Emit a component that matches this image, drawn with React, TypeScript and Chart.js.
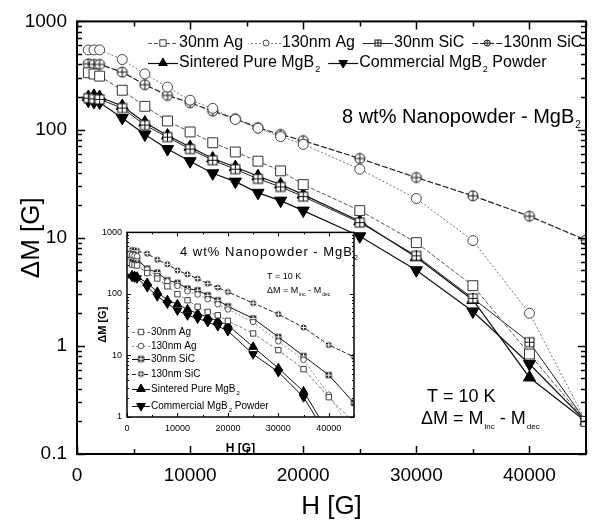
import React, { useEffect, useRef } from 'react';
import { Chart, registerables } from 'chart.js';
import { drawPoint } from 'chart.js/helpers';

Chart.register(...registerables);

const FONT = '"Liberation Sans", Arial, Helvetica, sans-serif';

// ---------- data (main panel: 8 wt% nanopowder) ----------
const H_FIELD = [1000, 1500, 2000, 4000, 6000, 8000, 10000, 12000, 14000, 16000, 18000, 20000, 25000, 30000, 35000, 40000, 45000];

const MAIN_30NM_AG = [335, 326, 312, 231, 164, 120, 95, 75.5, 62, 51, 41.5, 31, 17.8, 9.0, 3.6, 0.84, 0.2];
const MAIN_130NM_AG = [545, 545, 545, 444, 327, 247, 187, 157, 124, 103, 86, 73, 43, 23, 9.4, 2.0, 0.2];
const MAIN_30NM_SIC = [195, 192, 190, 158, 110, 85, 66, 52, 43, 35, 29.5, 24, 13.8, 6.8, 2.75, 1.08, 0.2];
const MAIN_130NM_SIC = [405, 400, 400, 340, 260, 207, 177, 148, 126, 104, 90, 79, 54, 36, 24.4, 15.8, 9.5];
const MAIN_SINTERED = [200, 205, 200, 165, 116, 88, 69, 54, 45, 37, 31, 25, 14.2, 6.6, 2.66, 0.51, 0.2];
const MAIN_COMMERCIAL = [185, 180, 178, 128, 90, 66, 51, 39.4, 33, 26, 22, 17.8, 10.3, 5.0, 2.08, 0.68, 0.2];

// ---------- data (inset: 4 wt% nanopowder) ----------
const IN_30NM_AG = [300, 295, 290, 219, 178, 133, 99, 79, 62, 51, 45, 36.5, 22.8, 12.2, 6.0, 2.1, 0.8];
const IN_130NM_AG = [430, 420, 410, 250, 195, 160, 135, 110, 98, 82, 68, 56, 35, 17, 8.5, 2.3, 0.5];
const IN_30NM_SIC = [380, 370, 360, 258, 222, 167, 151, 122, 115, 95, 79, 63, 40, 20, 9.8, 4.8, 1.7];
const IN_130NM_SIC = [520, 510, 500, 451, 360, 303, 242, 208, 177, 147, 127, 108, 71, 47, 28.5, 14.8, 9.5];
const IN_SINTERED = [200, 195, 190, 151, 108, 79, 68, 56, 48, 42, 36.5, 31, 13.8, 6.2, 2.6, 0.55, 0.2];
const IN_COMMERCIAL = [190, 185, 180, 130, 92, 70, 54, 45, 40, 35, 30, 25, 10.5, 5.4, 2.1, 0.45, 0.2];

const SERIES_LABELS = ['30nm Ag', '130nm Ag', '30nm SiC', '130nm SiC', 'Sintered Pure MgB_{2}', 'Commercial MgB_{2} Powder'];

// ---------- ticks ----------
const X_TICKS = [0, 10000, 20000, 30000, 40000];
const X_TICK_LABELS = ['0', '10000', '20000', '30000', '40000'];
const X_MINOR = [5000, 15000, 25000, 35000, 45000];
const Y_TICKS = [0.1, 1, 10, 100, 1000];
const Y_TICK_LABELS = ['0.1', '1', '10', '100', '1000'];
const INSET_Y_TICKS = [1, 10, 100, 1000];
const INSET_Y_TICK_LABELS = ['1', '10', '100', '1000'];

const MAIN_TITLE = '8 wt% Nanopowder - MgB_{2}';
const INSET_TITLE = '4 wt% Nanopowder - MgB_{2}';
const TEMP_TEXT = 'T = 10 K';
const DELTA_TEXT = 'ΔM = M_{inc} - M_{dec}';

function logMinor(decades: number[]) {
  const out: number[] = [];
  for (let i = 0; i < decades.length - 1; i++) {
    for (let k = 2; k <= 9; k++) out.push(decades[i] * k);
  }
  return out;
}

function makeMarker(kind: string, s: number, fill: string, stroke: string, lw: number, inner: string) {
  const c = document.createElement('canvas');
  const size = Math.ceil(s + lw * 2 + 2);
  c.width = size;
  c.height = size;
  const g = c.getContext('2d')!;
  const m = size / 2;
  const r = s / 2;
  g.lineWidth = lw;
  g.strokeStyle = stroke;
  g.fillStyle = fill;
  if (kind === 'circlePlus') {
    g.beginPath();
    g.arc(m, m, r, 0, Math.PI * 2);
    g.fill();
    g.stroke();
    g.strokeStyle = inner;
    g.beginPath();
    g.moveTo(m - r, m);
    g.lineTo(m + r, m);
    g.moveTo(m, m - r);
    g.lineTo(m, m + r);
    g.stroke();
  } else {
    g.fillRect(m - r, m - r, s, s);
    g.strokeRect(m - r, m - r, s, s);
    g.strokeStyle = inner;
    g.beginPath();
    g.moveTo(m - r, m);
    g.lineTo(m + r, m);
    g.moveTo(m, m - r);
    g.lineTo(m, m + r);
    g.stroke();
  }
  return c;
}

function drawRich(ctx: CanvasRenderingContext2D, str: string, x: number, y: number, size: number, weight = 'normal', subScale = 0.5, subDrop = 0.4) {
  const parts = str.split(/(_\{[^}]*\})/).filter(Boolean);
  let cx = x;
  ctx.textBaseline = 'middle';
  ctx.textAlign = 'left';
  for (const p of parts) {
    if (p.startsWith('_{')) {
      const t = p.slice(2, -1);
      ctx.font = `${weight} ${Math.round(size * subScale)}px ${FONT}`;
      ctx.fillText(t, cx + 1, y + size * subDrop);
      cx += ctx.measureText(t).width + 1;
    } else {
      ctx.font = `${weight} ${size}px ${FONT}`;
      ctx.fillText(p, cx, y);
      cx += ctx.measureText(p).width;
    }
  }
  return cx - x;
}

function framePlugin(o: any) {
  return {
    id: 'axisFrame',
    beforeDraw(chart: any) {
      if (!o.whiteArea) return;
      const { ctx, chartArea: a } = chart;
      ctx.save();
      ctx.fillStyle = '#fff';
      ctx.fillRect(a.left, a.top, a.right - a.left, a.bottom - a.top);
      ctx.restore();
    },
    afterDatasetsDraw(chart: any) {
      const { ctx, chartArea: a, scales } = chart;
      const x = scales.x;
      const y = scales.y;
      ctx.save();
      ctx.strokeStyle = '#000';
      ctx.lineWidth = o.tickWidth;
      ctx.beginPath();
      const xt = (vals: number[], len: number) => {
        for (const v of vals) {
          const px = Math.round(x.getPixelForValue(v)) + 0.5;
          ctx.moveTo(px, a.bottom);
          ctx.lineTo(px, a.bottom - len);
          if (o.topTicks) {
            ctx.moveTo(px, a.top);
            ctx.lineTo(px, a.top + len);
          }
        }
      };
      const yt = (vals: number[], len: number) => {
        for (const v of vals) {
          const py = Math.round(y.getPixelForValue(v)) + 0.5;
          ctx.moveTo(a.left, py);
          ctx.lineTo(a.left + len, py);
          if (o.rightTicks) {
            ctx.moveTo(a.right, py);
            ctx.lineTo(a.right - len, py);
          }
        }
      };
      xt(o.xMajor, o.major);
      xt(o.xMinor, o.minor);
      yt(o.yMajor, o.major);
      yt(o.yMinor, o.minor);
      ctx.stroke();
      ctx.lineWidth = o.frameWidth;
      ctx.strokeRect(a.left, a.top, a.right - a.left, a.bottom - a.top);
      ctx.restore();
    },
  };
}

type MarkerSpec = { style: any; r: number; bg: string; border: string; rot?: number };

function legendPlugin(o: any) {
  return {
    id: 'customLegend',
    afterDraw(chart: any) {
      const { ctx } = chart;
      ctx.save();
      ctx.fillStyle = '#000';
      for (const row of o.rows) {
        let x = row.x;
        for (const idx of row.items) {
          const ds = chart.data.datasets[idx];
          const mk: MarkerSpec = o.markers[idx];
          ctx.save();
          ctx.strokeStyle = ds.borderColor;
          ctx.lineWidth = ds.borderWidth;
          ctx.setLineDash(ds.borderDash || []);
          ctx.beginPath();
          ctx.moveTo(x, row.y + 0.5);
          ctx.lineTo(x + o.lineLen, row.y + 0.5);
          ctx.stroke();
          ctx.setLineDash([]);
          ctx.fillStyle = mk.bg;
          ctx.strokeStyle = mk.border;
          ctx.lineWidth = 1;
          drawPoint(ctx, { pointStyle: mk.style, radius: mk.r, rotation: mk.rot || 0, borderWidth: 1 } as any, x + o.lineLen / 2, row.y);
          ctx.restore();
          ctx.fillStyle = '#000';
          const w = drawRich(ctx, SERIES_LABELS[idx], x + o.lineLen + 1, row.y, o.size, 'normal', 0.55, 0.42);
          x += o.lineLen + 1 + w + o.gap;
        }
      }
      for (const t of o.texts) {
        ctx.fillStyle = '#000';
        if (t.spacing) (ctx as any).letterSpacing = t.spacing;
        drawRich(ctx, t.text, t.x, t.y, t.size, t.weight || 'normal', t.subScale || 0.5, t.subDrop || 0.4);
        (ctx as any).letterSpacing = '0px';
      }
      ctx.restore();
    },
  };
}

function buildDatasets(values: number[][], markers: MarkerSpec[], lines: any[]) {
  return values.map((vals, i) => ({
    label: SERIES_LABELS[i],
    data: vals.map((v, j) => ({ x: H_FIELD[j], y: v })),
    borderColor: lines[i].color,
    borderWidth: lines[i].width,
    borderDash: lines[i].dash,
    pointStyle: markers[i].style,
    pointRadius: markers[i].r,
    pointRotation: markers[i].rot || 0,
    pointBackgroundColor: markers[i].bg,
    pointBorderColor: markers[i].border,
    pointBorderWidth: 1,
    tension: 0,
    fill: false,
  }));
}

export default function App() {
  const mainRef = useRef<HTMLCanvasElement>(null);
  const insetRef = useRef<HTMLCanvasElement>(null);

  useEffect(() => {
    const mainMarkers: MarkerSpec[] = [
      { style: 'rect', r: 7, bg: '#fff', border: '#333' },
      { style: 'circle', r: 5, bg: '#fff', border: '#444' },
      { style: makeMarker('squareCross', 9, '#fff', '#111', 1, '#111'), r: 5, bg: '#fff', border: '#111' },
      { style: makeMarker('circlePlus', 10, '#fff', '#111', 1, '#111'), r: 5, bg: '#fff', border: '#111' },
      { style: 'triangle', r: 7, bg: '#000', border: '#000' },
      { style: 'triangle', r: 7, rot: 180, bg: '#000', border: '#000' },
    ];
    const mainLegendMarkers: MarkerSpec[] = [
      { style: 'rect', r: 4.5, bg: '#fff', border: '#333' },
      { style: 'circle', r: 3, bg: '#fff', border: '#444' },
      { style: makeMarker('squareCross', 6, '#fff', '#111', 1, '#111'), r: 3, bg: '#fff', border: '#111' },
      { style: makeMarker('circlePlus', 6, '#fff', '#111', 1, '#111'), r: 3, bg: '#fff', border: '#111' },
      { style: 'triangle', r: 5, bg: '#000', border: '#000' },
      { style: 'triangle', r: 5, rot: 180, bg: '#000', border: '#000' },
    ];
    const mainLines = [
      { color: '#555', width: 1, dash: [4, 2] },
      { color: '#777', width: 1, dash: [2, 2] },
      { color: '#222', width: 1, dash: [] },
      { color: '#222', width: 1.2, dash: [6, 2] },
      { color: '#111', width: 1.2, dash: [] },
      { color: '#111', width: 1.2, dash: [] },
    ];

    const mainChart = new Chart(mainRef.current!, {
      type: 'line',
      data: {
        datasets: buildDatasets(
          [MAIN_30NM_AG, MAIN_130NM_AG, MAIN_30NM_SIC, MAIN_130NM_SIC, MAIN_SINTERED, MAIN_COMMERCIAL],
          mainMarkers,
          mainLines,
        ) as any,
      },
      options: {
        animation: false,
        responsive: false,
        devicePixelRatio: 1,
        layout: { padding: { top: 19, right: 2, left: 0, bottom: 0 } },
        plugins: { legend: { display: false }, tooltip: { enabled: false } },
        scales: {
          x: {
            type: 'linear',
            min: 0,
            max: 45000,
            afterBuildTicks: (s: any) => {
              s.ticks = X_TICKS.map((v) => ({ value: v }));
            },
            afterFit: (s: any) => {
              s.height = 70;
            },
            grid: { display: false, drawTicks: false },
            border: { display: false },
            ticks: {
              autoSkip: false,
              maxRotation: 0,
              padding: 10,
              color: '#000',
              font: { family: FONT, size: 19 },
              callback: (v: any) => X_TICK_LABELS[X_TICKS.indexOf(Number(v))] ?? '',
            },
            title: { display: true, text: 'H [G]', color: '#000', font: { family: FONT, size: 26 }, padding: { top: 0, bottom: 2 } },
          },
          y: {
            type: 'logarithmic',
            min: 0.1,
            max: 1000,
            afterBuildTicks: (s: any) => {
              s.ticks = Y_TICKS.map((v) => ({ value: v, major: true }));
            },
            afterFit: (s: any) => {
              s.width = 77;
            },
            grid: { display: false, drawTicks: false },
            border: { display: false },
            ticks: {
              autoSkip: false,
              padding: 10,
              color: '#000',
              font: { family: FONT, size: 19 },
              callback: (v: any) => {
                const i = Y_TICKS.findIndex((t) => Math.abs(t - Number(v)) < t * 1e-6);
                return i >= 0 ? Y_TICK_LABELS[i] : '';
              },
            },
            title: { display: true, text: 'ΔM [G]', color: '#000', font: { family: FONT, size: 26 }, padding: { top: 16, bottom: 0 } },
          },
        },
      } as any,
      plugins: [
        framePlugin({
          xMajor: X_TICKS,
          xMinor: X_MINOR,
          yMajor: Y_TICKS,
          yMinor: logMinor(Y_TICKS),
          major: 8,
          minor: 5,
          tickWidth: 1.5,
          frameWidth: 2,
          topTicks: true,
          rightTicks: true,
        }),
        legendPlugin({
          rows: [
            { x: 148, y: 43, items: [0, 1, 2, 3] },
            { x: 148, y: 63, items: [4, 5] },
          ],
          markers: mainLegendMarkers,
          lineLen: 30,
          gap: 8,
          size: 16,
          texts: [
            { text: MAIN_TITLE, x: 342, y: 117, size: 20, subScale: 0.5, subDrop: 0.42 },
            { text: TEMP_TEXT, x: 427, y: 397, size: 18 },
            { text: DELTA_TEXT, x: 421, y: 419, size: 18, subScale: 0.45, subDrop: 0.45 },
          ],
        }),
      ],
    } as any);

    const insetMarkers: MarkerSpec[] = [
      { style: 'rect', r: 3.8, bg: '#fff', border: '#444' },
      { style: 'circle', r: 2.8, bg: '#fff', border: '#555' },
      { style: makeMarker('squareCross', 5, '#333', '#111', 1, '#fff'), r: 3, bg: '#333', border: '#111' },
      { style: makeMarker('circlePlus', 5, '#333', '#111', 1, '#fff'), r: 3, bg: '#333', border: '#111' },
      { style: 'triangle', r: 5, bg: '#000', border: '#000' },
      { style: 'triangle', r: 5, rot: 180, bg: '#000', border: '#000' },
    ];
    const insetLines = [
      { color: '#555', width: 0.8, dash: [3, 2] },
      { color: '#777', width: 0.8, dash: [2, 2] },
      { color: '#111', width: 1, dash: [] },
      { color: '#222', width: 1, dash: [4, 2] },
      { color: '#111', width: 1, dash: [] },
      { color: '#111', width: 1, dash: [] },
    ];

    const insetChart = new Chart(insetRef.current!, {
      type: 'line',
      data: {
        datasets: buildDatasets(
          [IN_30NM_AG, IN_130NM_AG, IN_30NM_SIC, IN_130NM_SIC, IN_SINTERED, IN_COMMERCIAL],
          insetMarkers,
          insetLines,
        ) as any,
      },
      options: {
        animation: false,
        responsive: false,
        devicePixelRatio: 1,
        layout: { padding: { top: 10, right: 6, left: 0, bottom: 0 } },
        plugins: { legend: { display: false }, tooltip: { enabled: false } },
        scales: {
          x: {
            type: 'linear',
            min: 0,
            max: 45000,
            afterBuildTicks: (s: any) => {
              s.ticks = X_TICKS.map((v) => ({ value: v }));
            },
            afterFit: (s: any) => {
              s.height = 41;
            },
            grid: { display: false, drawTicks: false },
            border: { display: false },
            ticks: {
              autoSkip: false,
              maxRotation: 0,
              padding: 6,
              color: '#000',
              font: { family: FONT, size: 9 },
              callback: (v: any) => X_TICK_LABELS[X_TICKS.indexOf(Number(v))] ?? '',
            },
            title: { display: true, text: 'H [G]', color: '#000', font: { family: FONT, size: 12, weight: 'bold' }, padding: { top: 0, bottom: 2 } },
          },
          y: {
            type: 'logarithmic',
            min: 1,
            max: 1000,
            afterBuildTicks: (s: any) => {
              s.ticks = INSET_Y_TICKS.map((v) => ({ value: v, major: true }));
            },
            afterFit: (s: any) => {
              s.width = 37;
            },
            grid: { display: false, drawTicks: false },
            border: { display: false },
            ticks: {
              autoSkip: false,
              padding: 5,
              color: '#000',
              font: { family: FONT, size: 9 },
              callback: (v: any) => {
                const i = INSET_Y_TICKS.findIndex((t) => Math.abs(t - Number(v)) < t * 1e-6);
                return i >= 0 ? INSET_Y_TICK_LABELS[i] : '';
              },
            },
            title: { display: true, text: 'ΔM [G]', color: '#000', font: { family: FONT, size: 11, weight: 'bold' }, padding: { top: 6, bottom: 0 } },
          },
        },
      } as any,
      plugins: [
        framePlugin({
          xMajor: X_TICKS,
          xMinor: X_MINOR,
          yMajor: INSET_Y_TICKS,
          yMinor: logMinor(INSET_Y_TICKS),
          major: 4,
          minor: 2,
          tickWidth: 1,
          frameWidth: 1.5,
          topTicks: true,
          rightTicks: true,
          whiteArea: true,
        }),
        legendPlugin({
          rows: [
            { x: 42, y: 110, items: [0] },
            { x: 42, y: 124, items: [1] },
            { x: 42, y: 137, items: [2] },
            { x: 42, y: 152, items: [3] },
            { x: 42, y: 167, items: [4] },
            { x: 42, y: 184, items: [5] },
          ],
          markers: insetMarkers,
          lineLen: 18,
          gap: 6,
          size: 10,
          texts: [
            { text: INSET_TITLE, x: 90, y: 30, size: 13, spacing: '1px', subScale: 0.55, subDrop: 0.45 },
            { text: TEMP_TEXT, x: 177, y: 55, size: 9 },
            { text: DELTA_TEXT, x: 177, y: 69, size: 9, subScale: 0.5, subDrop: 0.45 },
          ],
        }),
      ],
    } as any);

    return () => {
      mainChart.destroy();
      insetChart.destroy();
    };
  }, []);

  return (
    <div style={{ position: 'fixed', left: 0, top: 0, width: 594, height: 524, background: '#fff' }}>
      <canvas ref={mainRef} width={594} height={524} style={{ position: 'absolute', left: 0, top: 0, width: 594, height: 524 }} />
      <canvas ref={insetRef} width={270} height={236} style={{ position: 'absolute', left: 90, top: 222, width: 270, height: 236 }} />
    </div>
  );
}
